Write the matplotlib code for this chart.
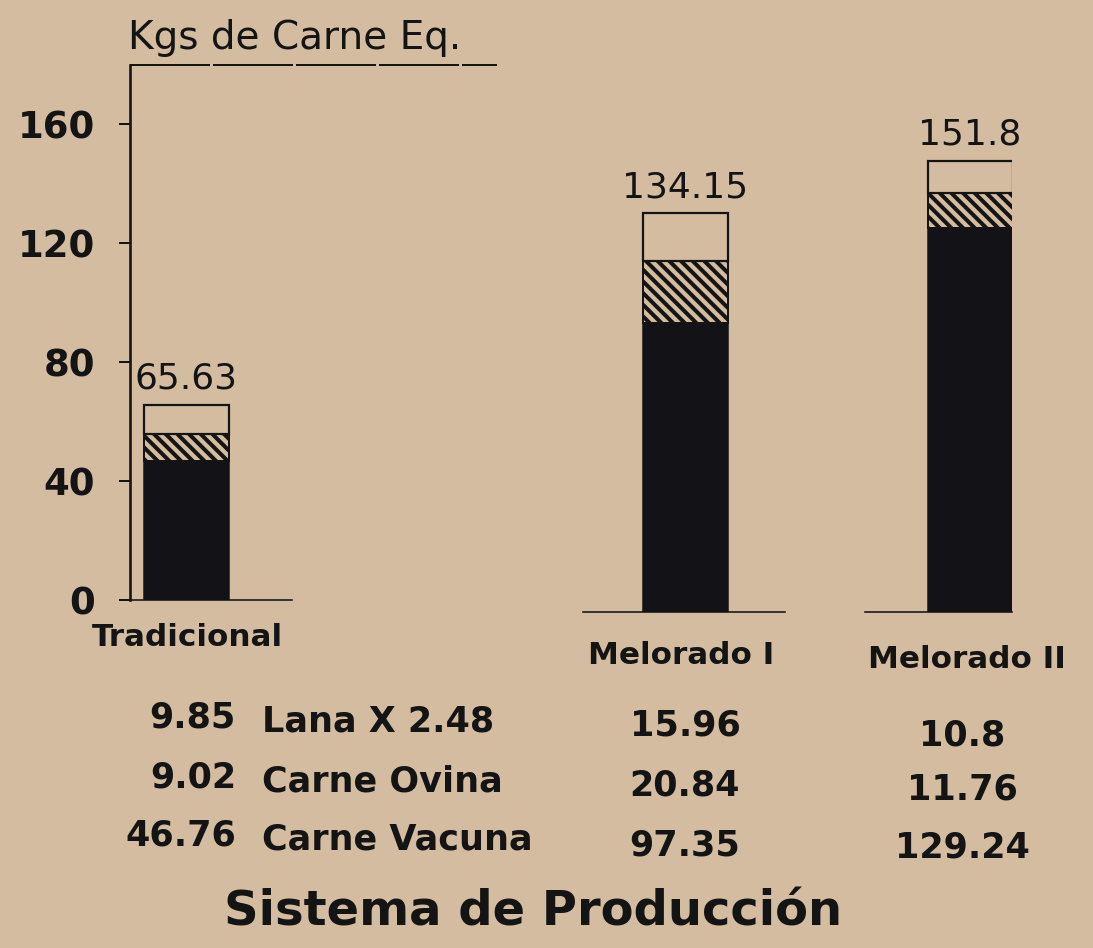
import matplotlib
matplotlib.use("Agg")
import matplotlib.pyplot as plt

# ---------------- data ----------------
categories = ["Tradicional", "Melorado I", "Melorado II"]
lana = [9.85, 15.96, 10.8]            # Lana X 2.48 (top, open)
carne_ovina = [9.02, 20.84, 11.76]    # hatched
carne_vacuna = [46.76, 97.35, 129.24] # solid black
totals = [65.63, 134.15, 151.8]
row_labels = ["Lana X 2.48", "Carne Ovina", "Carne Vacuna"]
yticks = [0, 40, 80, 120, 160]
ylabel = "Kgs de Carne Eq."
xlabel = "Sistema de Producción"

# ---------------- layout ----------------
DPI = 140
W, H = 1093, 948
def P(px):  # pixels -> points
    return px * 72.0 / DPI

BG = "#d3bc9f"
INK = "#141414"
BARC = "#121217"
BW = 85.0  # bar width in px
YMAX = 180

plt.rcParams["font.family"] = ["DejaVu Sans"]
plt.rcParams["hatch.linewidth"] = P(4.0)
plt.rcParams["hatch.color"] = INK

fig = plt.figure(figsize=(W / DPI, H / DPI), dpi=DPI, facecolor=BG)

# per-panel pixel geometry: (left, right, bar centre, top, bottom)
panels = [
    (130, 292, 186, 65, 600),
    (583, 785, 685, 77, 612),
    (865, 1012, 970, 77, 612),
]

def fx(px):
    return px / W
def fy(py):
    return 1 - py / H

axes = []
for i, (l, r, c, t, b) in enumerate(panels):
    ax = fig.add_axes([l / W, 1 - b / H, (r - l) / W, (b - t) / H])
    ax.set_facecolor("none")
    ax.set_xlim((l - c) / BW, (r - c) / BW)
    ax.set_ylim(0, YMAX)
    for s in ["top", "right", "left"]:
        ax.spines[s].set_visible(False)
    ax.spines["bottom"].set_linewidth(P(1.6))
    ax.spines["bottom"].set_color(INK)
    ax.set_xticks([])
    ax.set_yticks([])
    # stacked bar
    ax.bar(0, carne_vacuna[i], width=1.0, color=BARC, edgecolor=BARC, lw=P(1.5), zorder=3)
    ax.bar(0, carne_ovina[i], width=1.0, bottom=carne_vacuna[i], facecolor=BG,
           edgecolor=INK, hatch="\\\\\\\\", lw=P(2), zorder=3)
    ax.bar(0, lana[i], width=1.0, bottom=carne_vacuna[i] + carne_ovina[i], facecolor="none",
           edgecolor=INK, lw=P(2.2), zorder=3)
    ax.annotate(f"{totals[i]:g}", xy=(0, totals[i]), xytext=(0, P(9)),
                textcoords="offset points", ha="center", va="bottom",
                fontsize=P(36), color=INK)
    axes.append(ax)

ax1 = axes[0]
ax1.spines["left"].set_visible(True)
ax1.spines["left"].set_linewidth(P(2.6))
ax1.spines["left"].set_color(INK)
ax1.set_yticks(yticks)
ax1.tick_params(axis="y", direction="out", length=P(11), width=P(2), color=INK,
                pad=P(24), labelsize=P(37), labelcolor=INK)
for lab in ax1.get_yticklabels():
    lab.set_fontweight("bold")

# top line (axis frame) extending to the right of the y label
l, r, c, t, b = panels[0]
ax1.plot([(l - c) / BW, (497 - c) / BW], [YMAX, YMAX], color=INK, lw=P(2),
         ls=(0, (40, 1.5)), clip_on=False, zorder=4)

# y-axis title
fig.text(fx(128), fy(38), ylabel, ha="left", va="center", fontsize=P(39), color=INK)

# category labels
cat_pos = [(187, 637), (681, 655), (967, 659)]
for name, (x, y) in zip(categories, cat_pos):
    fig.text(fx(x), fy(y), name, ha="center", va="center", fontsize=P(31),
             fontweight="bold", color=INK)

# value table
series = [lana, carne_ovina, carne_vacuna]
left_rows = [718, 777, 836]
mid_rows = [725, 785, 845]
right_rows = [735, 790, 848]
for k in range(3):
    fig.text(fx(236), fy(left_rows[k]), f"{series[k][0]:g}", ha="right", va="center",
             fontsize=P(35), fontweight="bold", color=INK)
    fig.text(fx(262), fy(left_rows[k] + 4), row_labels[k], ha="left", va="center",
             fontsize=P(35), fontweight="bold", color=INK)
    fig.text(fx(685), fy(mid_rows[k]), f"{series[k][1]:g}", ha="center", va="center",
             fontsize=P(35), fontweight="bold", color=INK)
    fig.text(fx(962), fy(right_rows[k]), f"{series[k][2]:g}", ha="center", va="center",
             fontsize=P(35), fontweight="bold", color=INK)

# x-axis title
fig.text(fx(533), fy(912), xlabel, ha="center", va="center", fontsize=P(48),
         fontweight="bold", color=INK)

fig.savefig("out.png", dpi=DPI, facecolor=BG)
